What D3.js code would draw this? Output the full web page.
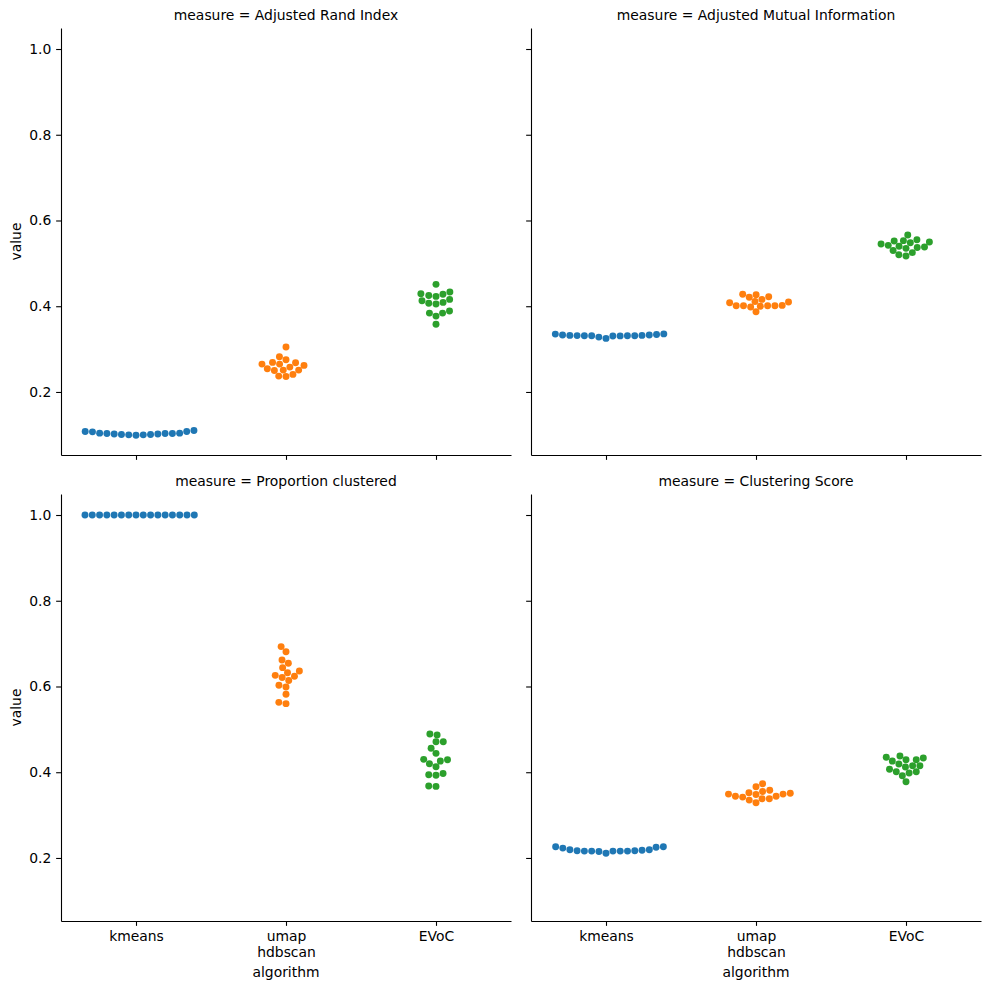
<!DOCTYPE html>
<html>
<head>
<meta charset="utf-8">
<script src="https://cdn.jsdelivr.net/npm/d3@7"></script>
<style>
body { margin: 0; background: #fff; }
svg { font-family: "DejaVu Sans", sans-serif; }
</style>
</head>
<body>
<svg id="chart" width="989" height="990"></svg>
<script>
// categories and measures
var algorithms = ["kmeans", "umap\nhdbscan", "EVoC"];
var measures = ["Adjusted Rand Index", "Adjusted Mutual Information", "Proportion clustered", "Clustering Score"];
var colors = ["#1f77b4", "#ff7f0e", "#2ca02c"];
var yTicks = [0.2, 0.4, 0.6, 0.8, 1.0];

// values (16 runs per algorithm)
var ariKmeans = [0.108, 0.107, 0.104, 0.103, 0.102, 0.101, 0.100, 0.099, 0.100, 0.101, 0.102, 0.103, 0.103, 0.104, 0.108, 0.110];
var ariUmap = [0.305, 0.282, 0.275, 0.265, 0.269, 0.265, 0.268, 0.262, 0.254, 0.250, 0.251, 0.258, 0.251, 0.237, 0.236, 0.241];
var ariEvoc = [0.451, 0.429, 0.425, 0.423, 0.428, 0.433, 0.413, 0.407, 0.405, 0.409, 0.416, 0.384, 0.377, 0.384, 0.389, 0.358];

var amiKmeans = [0.335, 0.333, 0.332, 0.331, 0.331, 0.3305, 0.328, 0.325, 0.3308, 0.331, 0.3312, 0.3315, 0.332, 0.333, 0.334, 0.3355];
var amiUmap = [0.428, 0.427, 0.422, 0.421, 0.416, 0.411, 0.410, 0.408, 0.402, 0.401, 0.401, 0.401, 0.401, 0.400, 0.398, 0.387];
var amiEvoc = [0.566, 0.555, 0.553, 0.552, 0.550, 0.548, 0.545, 0.542, 0.540, 0.538, 0.537, 0.535, 0.530, 0.525, 0.520, 0.517];

var pcKmeans = [1.0, 1.0, 1.0, 1.0, 1.0, 1.0, 1.0, 1.0, 1.0, 1.0, 1.0, 1.0, 1.0, 1.0, 1.0, 1.0];
var pcUmap = [0.693, 0.681, 0.662, 0.654, 0.644, 0.636, 0.632, 0.621, 0.624, 0.626, 0.614, 0.603, 0.599, 0.582, 0.563, 0.560];
var pcEvoc = [0.487, 0.489, 0.471, 0.471, 0.456, 0.444, 0.430, 0.420, 0.413, 0.426, 0.429, 0.394, 0.393, 0.397, 0.368, 0.367];

var csKmeans = [0.226, 0.223, 0.219, 0.217, 0.216, 0.216, 0.215, 0.226, 0.211, 0.216, 0.216, 0.216, 0.217, 0.218, 0.219, 0.225];
var csUmap = [0.355, 0.349, 0.344, 0.338, 0.373, 0.366, 0.352, 0.344, 0.351, 0.358, 0.329, 0.335, 0.338, 0.342, 0.348, 0.349];
var csEvoc = [0.438, 0.435, 0.426, 0.433, 0.429, 0.429, 0.419, 0.415, 0.412, 0.415, 0.401, 0.392, 0.398, 0.401, 0.407, 0.378];

var seriesByMeasure = [
    [ariKmeans, ariUmap, ariEvoc],
    [amiKmeans, amiUmap, amiEvoc],
    [pcKmeans, pcUmap, pcEvoc],
    [csKmeans, csUmap, csEvoc]
];

var svg = d3.select('#chart');
var panelW = 450, panelH = 427;
var originsX = [61, 531];
var originsY = [28, 494];
var tick = 4.86;
var fontSize = 13.9;
var dotR = 3.47;

// shared y limits (seaborn adds 5% margins)
var y = d3.scaleLinear().domain([0.053, 1.049]).range([panelH, 0]);
var x = d3.scalePoint().domain(algorithms).range([0, panelW]).padding(0.5);

// seaborn-like beeswarm, in pixel space
function beeswarm(values, cx) {
    var pts = values.map(function(v) { return {v: v, x: cx, y: -y(v), r: dotR}; });
    var sorted = pts.slice().sort(function(a, b) { return a.y - b.y; });
    var placed = [sorted[0]];
    for (var k = 1; k < sorted.length; k++) {
        var p = sorted[k];
        var nb = [];
        for (var j = placed.length - 1; j >= 0; j--) {
            if (p.y - placed[j].y < p.r + placed[j].r) nb.push(placed[j]);
            else break;
        }
        var cands = [cx];
        nb.forEach(function(q) {
            var dy = p.y - q.y;
            var dx = Math.sqrt(Math.max(Math.pow(p.r + q.r, 2) - dy * dy, 0)) * 1.05;
            cands.push(q.x + dx, q.x - dx);
        });
        // closest to the midline first; a tie goes left for a lone neighbour, right otherwise
        var preferLeft = nb.length === 1;
        cands.sort(function(a, b) {
            var d = Math.abs(a - cx) - Math.abs(b - cx);
            if (Math.abs(d) < 1e-6) return preferLeft ? a - b : b - a;
            return d;
        });
        var chosen = cands[0];
        for (var c = 0; c < cands.length; c++) {
            var ok = nb.every(function(q) {
                var ddx = q.x - cands[c], ddy = q.y - p.y;
                return ddx * ddx + ddy * ddy >= Math.pow(q.r + p.r, 2) - 1e-9;
            });
            if (ok) { chosen = cands[c]; break; }
        }
        p.x = chosen;
        placed.push(p);
    }
    return pts;
}

measures.forEach(function(m, i) {
    var col = i % 2, row = Math.floor(i / 2);
    var g = svg.append('g')
        .attr('transform', 'translate(' + originsX[col] + ',' + originsY[row] + ')');

    // title
    g.append('text')
        .attr('x', panelW / 2)
        .attr('y', -8.3)
        .attr('text-anchor', 'middle')
        .style('font-size', fontSize + 'px')
        .text('measure = ' + m);

    // y axis
    var yAxis = d3.axisLeft(y).tickValues(yTicks).tickSize(tick).tickPadding(4.86).tickSizeOuter(0)
        .tickFormat(col === 0 ? d3.format('.1f') : '');
    var ya = g.append('g').call(yAxis);

    // x axis
    var xAxis = d3.axisBottom(x).tickSize(tick).tickPadding(4.86).tickSizeOuter(0);
    var xa = g.append('g').attr('transform', 'translate(0,' + panelH + ')').call(xAxis);
    xa.selectAll('text').each(function(d) {
        var t = d3.select(this);
        t.text(null);
        if (row === 0) return;
        d.split('\n').forEach(function(line, li) {
            t.append('tspan').attr('x', 0).attr('dy', li === 0 ? '0.71em' : '1.17em').text(line);
        });
    });

    [ya, xa].forEach(function(a) {
        a.select('.domain').attr('stroke', '#000').attr('stroke-width', 1.1);
        a.selectAll('.tick line').attr('stroke', '#000').attr('stroke-width', 1.1);
        a.selectAll('text').attr('fill', '#000').style('font-size', fontSize + 'px')
            .style('font-family', '"DejaVu Sans", sans-serif');
    });

    if (col === 0) {
        g.append('text')
            .attr('transform', 'translate(-40,' + panelH / 2 + ') rotate(-90)')
            .attr('text-anchor', 'middle')
            .style('font-size', fontSize + 'px')
            .text('value');
    }
    if (row === 1) {
        g.append('text')
            .attr('x', panelW / 2)
            .attr('y', panelH + 56)
            .attr('text-anchor', 'middle')
            .style('font-size', fontSize + 'px')
            .text('algorithm');
    }

    // swarms
    seriesByMeasure[i].forEach(function(vals, ai) {
        var pts = beeswarm(vals, x(algorithms[ai]));
        g.append('g').selectAll('circle')
            .data(pts)
            .join('circle')
            .attr('cx', function(d) { return d.x; })
            .attr('cy', function(d) { return -d.y; })
            .attr('r', dotR)
            .attr('fill', colors[ai]);
    });
});
</script>
</body>
</html>
